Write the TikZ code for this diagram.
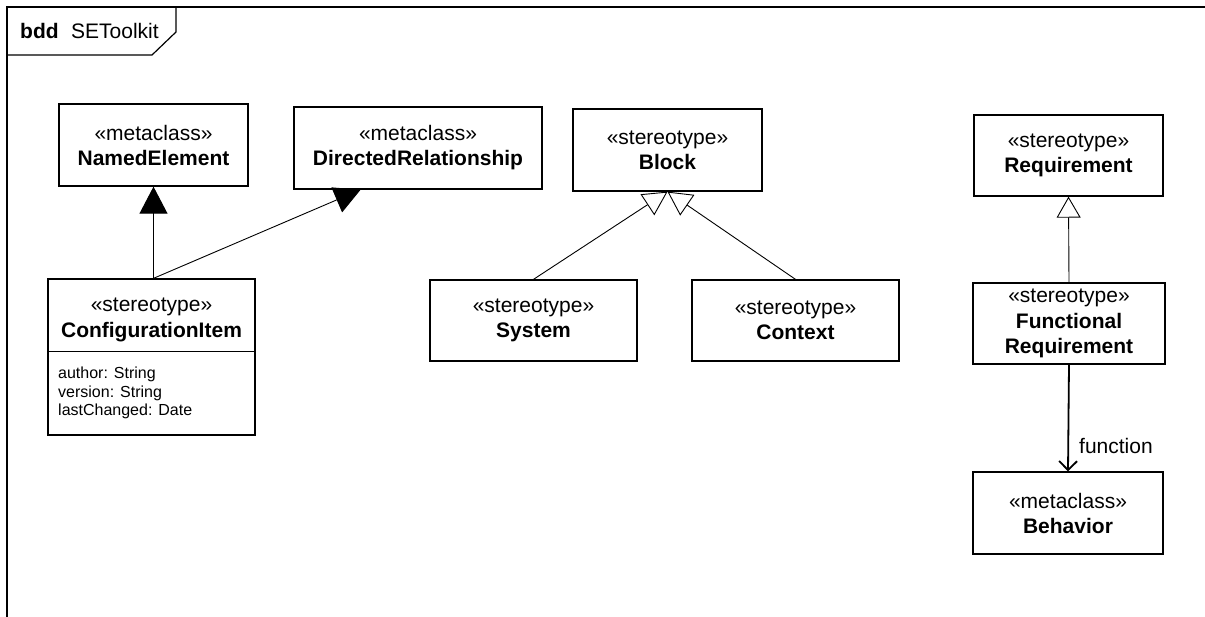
\documentclass[tikz,border=0pt]{standalone}
\usepackage{fontspec}
\setmainfont{Liberation Sans}
\usetikzlibrary{arrows.meta,calc}
\begin{document}
\begin{tikzpicture}[x=1pt,y=-1pt,
  box/.style={draw, line width=1.3pt, align=center, inner sep=0pt, font=\fontsize{21}{25}\selectfont},
  lbl/.style={inner sep=0pt, anchor=base west, font=\fontsize{21}{25}\selectfont},
  attr/.style={inner sep=0pt, anchor=base west, font=\fontsize{16}{18}\selectfont},
  gen/.style={line width=0.9pt, -{Triangle[fill=white,length=24pt,width=25pt]}},
  gensolid/.style={line width=0.9pt, -{Triangle[length=27pt,width=28pt]}},
  assoc/.style={line width=1.8pt, -{Straight Barb[length=9pt,width=18pt]}}
]
\useasboundingbox (0,0) rectangle (1205,616);
\fill[white] (0,0) rectangle (1205,616);

% frame
\draw[line width=2pt] (7,617) -- (7,7) -- (1206,7);
\draw[line width=1.2pt] (7,55) -- (152,55) -- (176,32) -- (176,7);
\node[lbl] (kind) at (20,38) {\bfseries bdd};
\node[lbl] (title) at (71,38) {SEToolkit};

% blocks
\node[box, minimum width=189pt, minimum height=82pt] (named) at (153.5,145) {«metaclass»\\\textbf{NamedElement}};
\node[box, minimum width=248pt, minimum height=82pt] (dr) at (418,148) {«metaclass»\\\textbf{DirectedRelationship}};
\node[box, minimum width=189pt, minimum height=82pt] (block) at (667.5,150) {«stereotype»\\\textbf{Block}};

\node[box, minimum width=207pt, minimum height=156pt] (ci) at (151.5,357) {};
\draw[line width=1.1pt] ($(ci.north west)+(0,73)$) -- ($(ci.north east)+(0,73)$);
\node[inner sep=0pt, align=center, font=\fontsize{21}{26}\selectfont] (cihead) at (151.5,320) {«stereotype»\\\textbf{ConfigurationItem}};
\node[attr] (a1) at (58,378) {author: String};
\node[attr] (a2) at (58,397) {version: String};
\node[attr] (a3) at (58,415) {lastChanged: Date};

\node[box, minimum width=207pt, minimum height=81pt] (sys) at (533.5,320.5) {«stereotype»\\\textbf{System}};
\node[box, minimum width=207pt, minimum height=81pt] (ctx) at (795.5,320.5) {«stereotype»\\\textbf{Context}};

\node[box, minimum width=189pt, minimum height=81pt] (req) at (1068.5,155.5) {«stereotype»\\\textbf{Requirement}};
\node[box, minimum width=192pt, minimum height=81pt, font=\fontsize{21}{25.5}\selectfont] (freq) at (1069,323.5) {«stereotype»\\\textbf{Functional}\\\textbf{Requirement}};
\node[box, minimum width=190pt, minimum height=82pt] (beh) at (1068,513) {«metaclass»\\\textbf{Behavior}};

% connectors
\draw[gensolid] (named.south |- ci.north) -- (named.south);
\draw[line width=0.9pt, -{Triangle[length=26pt,width=27pt]}] (named.south |- ci.north) -- ($(dr.south west)!0.27!(dr.south east)$);
\draw[gen] (sys.north) -- (block.south);
\draw[gen] (ctx.north) -- (block.south);
\draw[line width=0.9pt, -{Triangle[fill=white,length=21pt,width=24pt]}] (freq.north) -- (req.south);
\draw[assoc] (freq.south) -- (beh.north);
\node[lbl] (fn) at (1079,453) {function};
\end{tikzpicture}
\end{document}
